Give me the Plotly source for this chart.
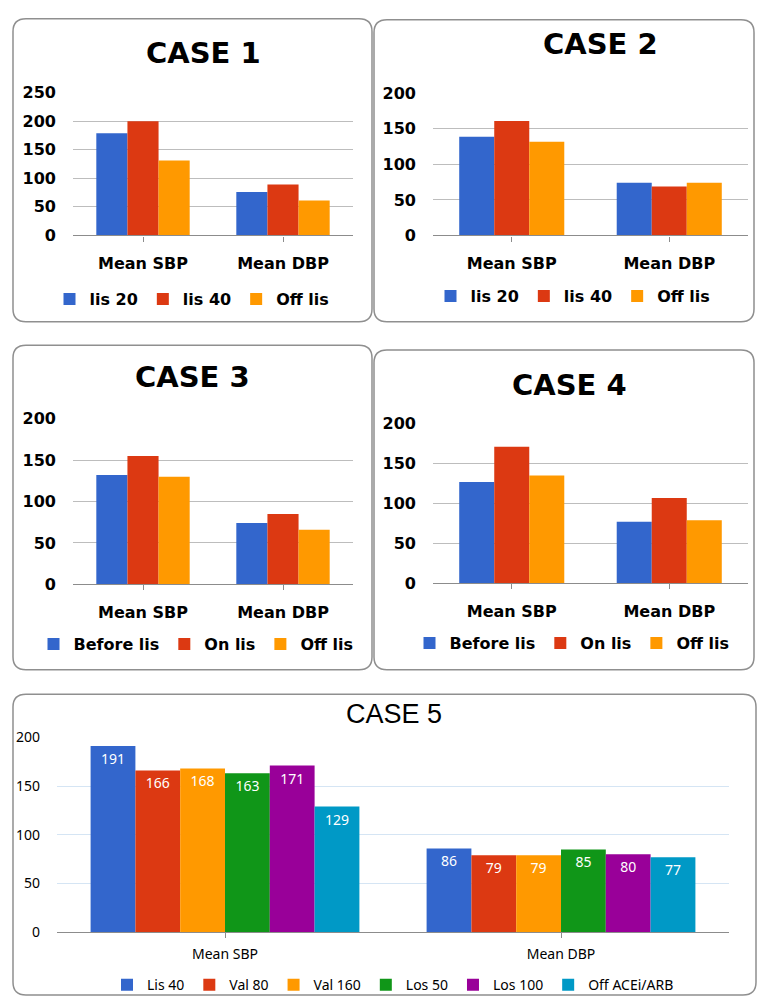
import plotly.graph_objects as go

W, H = 757, 1007

# ---------------- data ----------------
categories = ["Mean SBP", "Mean DBP"]

case1_names = ["lis 20", "lis 40", "Off lis"]
case1_lis20 = [179, 76]
case1_lis40 = [200, 89]
case1_off = [131, 61]

case2_names = ["lis 20", "lis 40", "Off lis"]
case2_lis20 = [139, 74]
case2_lis40 = [161, 69]
case2_off = [132, 74]

case3_names = ["Before lis", "On lis", "Off lis"]
case3_before = [132, 74]
case3_on = [155, 85]
case3_off = [130, 66]

case4_names = ["Before lis", "On lis", "Off lis"]
case4_before = [127, 77]
case4_on = [171, 107]
case4_off = [135, 79]

case5_names = ["Lis 40", "Val 80", "Val 160", "Los 50", "Los 100", "Off ACEi/ARB"]
case5_lis40 = [191, 86]
case5_val80 = [166, 79]
case5_val160 = [168, 79]
case5_los50 = [163, 85]
case5_los100 = [171, 80]
case5_off = [129, 77]

y_ticks_250 = [0, 50, 100, 150, 200, 250]
y_ticks_200 = [0, 50, 100, 150, 200]

colors = ["#3366CC", "#DC3912", "#FF9900", "#109618", "#990099", "#0099C6"]

# ---------------- helpers ----------------
def px(x):
    return x / W


def py(y):
    return 1 - y / H


BOLD = dict(family="DejaVu Sans", weight="bold", color="black")
REG = dict(family="Noto Sans", color="black")

fig = go.Figure()

panels = [
    dict(title="CASE 1", names=case1_names, values=[case1_lis20, case1_lis40, case1_off],
         ymax=250, yticks=y_ticks_250, xd=(73, 353), yd=(84.3, 230), tpos=(203, 44),
         lpos=(192, 295), box=(13, 9, 372, 318), bold=True, group=0.667),
    dict(title="CASE 2", names=case2_names, values=[case2_lis20, case2_lis40, case2_off],
         ymax=200, yticks=y_ticks_200, xd=(433, 748), yd=(85, 230), tpos=(600, 35),
         lpos=(573, 292), box=(374, 10, 754, 318), bold=True, group=0.667),
    dict(title="CASE 3", names=case3_names, values=[case3_before, case3_on, case3_off],
         ymax=200, yticks=y_ticks_200, xd=(73, 353), yd=(417, 586), tpos=(192, 374),
         lpos=(196, 647), box=(13, 342, 372, 673), bold=True, group=0.667),
    dict(title="CASE 4", names=case4_names, values=[case4_before, case4_on, case4_off],
         ymax=200, yticks=y_ticks_200, xd=(433, 748), yd=(422, 585), tpos=(569, 383),
         lpos=(572, 646), box=(374, 347, 754, 673), bold=True, group=0.667),
    dict(title="CASE 5", names=case5_names,
         values=[case5_lis40, case5_val80, case5_val160, case5_los50, case5_los100, case5_off],
         ymax=200, yticks=y_ticks_200, xd=(57, 729), yd=(742, 941), tpos=(394, 718),
         lpos=(393, 995), box=(13, 698, 756, 1005), bold=False, group=0.8),
]

shapes = []
annotations = []
layout_axes = {}

for k, p in enumerate(panels, start=1):
    sfx = "" if k == 1 else str(k)
    xa, ya = "x" + sfx, "y" + sfx
    leg = "legend" + sfx
    n = len(p["names"])
    bw = p["group"] / n
    font_ticks = dict(BOLD, size=16) if p["bold"] else dict(REG, size=14)
    font_cat = dict(BOLD, size=16) if p["bold"] else dict(REG, size=14)
    font_leg = dict(BOLD, size=16) if p["bold"] else dict(REG, size=14)
    grid = "#bdbdbd" if p["bold"] else "#d5e5f4"
    axcol = "#8c8c8c"

    for i, (name, vals) in enumerate(zip(p["names"], p["values"])):
        tr = dict(
            x=categories, y=vals, name=name, xaxis=xa, yaxis=ya, legend=leg,
            marker=dict(color=colors[i], line=dict(width=0)),
            width=bw, offset=-p["group"] / 2 + i * bw,
            hoverinfo="skip",
        )
        if not p["bold"]:
            tr.update(text=[str(v) for v in vals], textposition="inside",
                      insidetextanchor="end", textangle=0,
                      textfont=dict(family="Noto Sans", size=14, color="white"))
        fig.add_trace(go.Bar(**tr))

    layout_axes["xaxis" + sfx] = dict(
        domain=[px(p["xd"][0]), px(p["xd"][1])], anchor=ya, type="category",
        range=[-0.5, 1.5], showline=True, linecolor=axcol, linewidth=1.2,
        ticks="outside", ticklen=5, tickcolor=axcol, tickwidth=1.2,
        showgrid=False, zeroline=False, tickfont=font_cat,
        ticklabelstandoff=8 if p["bold"] else 4, fixedrange=True,
    )
    layout_axes["yaxis" + sfx] = dict(
        domain=[py(p["yd"][1]), py(p["yd"][0])], anchor=xa, range=[0, p["ymax"]],
        tickvals=p["yticks"], showgrid=True, gridcolor=grid, gridwidth=1.2,
        zeroline=False, showline=False, ticks="", tickfont=font_ticks,
        ticklabelstandoff=16, fixedrange=True,
    )
    # overlay axis for boundary tick marks
    ov = "xaxis" + str(k + 5)
    layout_axes[ov] = dict(
        domain=[px(p["xd"][0]), px(p["xd"][1])], anchor=ya, overlaying=xa,
        range=[-0.5, 1.5], tickvals=[-0.5, 0.5, 1.5], showticklabels=False,
        ticks="outside", ticklen=5, tickcolor=axcol, tickwidth=1.2,
        showline=False, showgrid=False, zeroline=False, fixedrange=True,
    )

    layout_axes[leg] = dict(
        orientation="h", x=px(p["lpos"][0]), y=py(p["lpos"][1]),
        xanchor="center", yanchor="middle", font=font_leg,
        bgcolor="rgba(0,0,0,0)", itemclick=False, itemdoubleclick=False,
        traceorder="normal", tracegroupgap=0,
    )

    # title
    tfont = dict(BOLD, size=29) if p["bold"] else dict(family="Liberation Sans", size=27, color="black")
    annotations.append(dict(
        text=p["title"], x=px(p["tpos"][0]), y=py(p["tpos"][1]), xref="paper", yref="paper",
        xanchor="center", yanchor="middle", showarrow=False, font=tfont,
    ))

    # rounded border
    x0, y0, x1, y1 = p["box"]
    r = 13
    pts = [
        ("M", (x0 + r, y0)), ("L", (x1 - r, y0)), ("Q", (x1, y0), (x1, y0 + r)),
        ("L", (x1, y1 - r)), ("Q", (x1, y1), (x1 - r, y1)), ("L", (x0 + r, y1)),
        ("Q", (x0, y1), (x0, y1 - r)), ("L", (x0, y0 + r)), ("Q", (x0, y0), (x0 + r, y0)),
    ]
    path = ""
    for item in pts:
        cmd = item[0]
        coords = " ".join(f"{px(a):.5f},{py(b):.5f}" for a, b in item[1:])
        path += f"{cmd}{coords} "
    path += "Z"
    shapes.append(dict(type="path", path=path, xref="paper", yref="paper",
                       line=dict(color="#8f8f8f", width=1.5), fillcolor="rgba(0,0,0,0)",
                       layer="below"))

fig.update_layout(
    width=W, height=H, margin=dict(l=0, r=0, t=0, b=0),
    paper_bgcolor="white", plot_bgcolor="rgba(0,0,0,0)",
    barmode="group", showlegend=True,
    shapes=shapes, annotations=annotations,
    **layout_axes,
)

fig.write_html("out.html", config=dict(displayModeBar=False))
